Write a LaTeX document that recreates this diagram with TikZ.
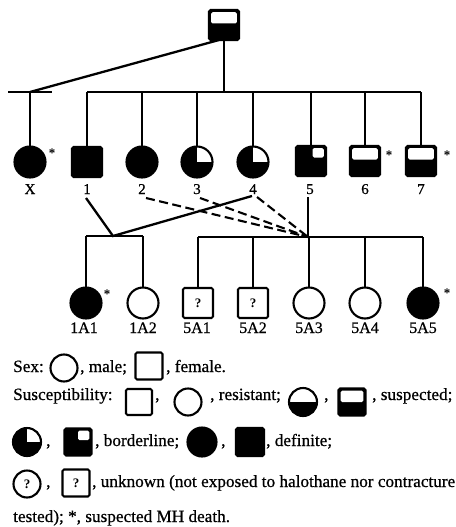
\documentclass[tikz,border=0pt]{standalone}
\usepackage{fontspec}
\setmainfont{Liberation Serif}
\newfontfamily\hv{Liberation Serif}[FakeBold=0.7]
\begin{document}
\begin{tikzpicture}[x=1pt,y=-1pt,
  ln/.style={line width=2.3pt},
  dsh/.style={line width=2.1pt, dash pattern=on 9pt off 4.5pt},
  sym/.style={draw, line width=2.1pt, inner sep=0pt, outer sep=0pt, fill=white},
  sqr/.style={sym, rectangle, rounded corners=1.5pt, minimum size=#1}, sqr/.default=30pt,
  cir/.style={sym, circle, minimum size=#1}, cir/.default=31pt,
  blk/.style={fill=black},
  suspsq/.style={fill=black, path picture={\fill[white] ([shift={(2.2pt,-2.2pt)}]path picture bounding box.north west) rectangle ([shift={(-2.2pt,-13.5pt)}]path picture bounding box.north east);}},
  bordsq/.style={fill=black, path picture={\fill[white] ([shift={(-13.5pt,-2.2pt)}]path picture bounding box.north east) rectangle ([shift={(-2.2pt,-11.5pt)}]path picture bounding box.north east);}},
  suspci/.style={fill=black, path picture={\fill[white] (path picture bounding box.north west) rectangle (path picture bounding box.east);}},
  bordci/.style={fill=black, path picture={\fill[white] (path picture bounding box.center) rectangle (path picture bounding box.north east);}},
  lab/.style={font=\hv\fontsize{15}{15}\selectfont, anchor=base, inner sep=0pt},
  labb/.style={font=\hv\fontsize{16}{16}\selectfont, anchor=base, inner sep=0pt},
  ast/.style={font=\bfseries\fontsize{13}{13}\selectfont, anchor=base, inner sep=0pt},
  leg/.style={font=\hv\fontsize{17.2}{17.2}\selectfont, anchor=base west, inner sep=0pt},
  qm/.style={font=\bfseries\fontsize{13}{13}\selectfont}
]
\useasboundingbox (0,0) rectangle (455,527);

% ---------- generation I ----------
\node[sqr, suspsq] (P) at (224,25) {};
\coordinate (Pm) at (224,92);
\coordinate (Pd) at (219,40);
\coordinate (Xm) at (30,92);
\coordinate (Xl) at (8,92);
\coordinate (Xr) at (52,92);

% ---------- generation II ----------
\node[cir, blk] (X) at (30,162) {};
\node[sqr, blk] (c1) at (87,162) {};
\node[cir, blk] (c2) at (142,162) {};
\node[cir, bordci] (c3) at (197,162) {};
\node[cir, bordci] (c4) at (253,162) {};
\node[sqr, bordsq] (c5) at (311,161) {};
\node[sqr, suspsq] (c6) at (365,161) {};
\node[sqr, suspsq] (c7) at (421,161) {};

\draw[ln] (P.south) -- (Pm);
\draw[ln] (c1.north |- Pm) -- (c7.north |- Pm);
\foreach \n in {c1,c2,c3,c4,c5,c6,c7} \draw[ln] (\n.north |- Pm) -- (\n.north);
\draw[ln] (Pd) -- (Xm);
\draw[ln] (Xl) -- (Xr);
\draw[ln] (Xm) -- (X.north);

\node[lab] (lX) at (30,194) {X};
\node[lab] (l1) at (87,194) {1};
\node[lab] (l2) at (142,194) {2};
\node[lab] (l3) at (197,194) {3};
\node[lab] (l4) at (253,194) {4};
\node[lab] (l5) at (310,194) {5};
\node[lab] (l6) at (365,194) {6};
\node[lab] (l7) at (421,194) {7};

\node[ast] (aX) at (52,157) {*};
\node[ast] (a6) at (389,159) {*};
\node[ast] (a7) at (447,159) {*};

% ---------- generation III ----------
\coordinate (a1) at (86,198);
\coordinate (a4) at (252,196);
\coordinate (m1) at (113,236);
\coordinate (b2) at (146,198);
\coordinate (b3) at (200,198);
\coordinate (b4) at (257,197);
\coordinate (a5) at (308,197);
\coordinate (m5) at (308,237);

\node[cir, blk] (d1) at (86,303) {};
\node[cir] (d2) at (143,303) {};
\node[sqr, qm] (e1) at (198,303) {?};
\node[sqr, qm] (e2) at (253,303) {?};
\node[cir] (e3) at (309,303) {};
\node[cir] (e4) at (365,303) {};
\node[cir, blk] (e5) at (423,303) {};

\draw[ln] (a1) -- (m1) -- (a4);
\draw[dsh] (b2) -- (m5);
\draw[dsh] (b3) -- (m5);
\draw[dsh] (b4) -- (m5);
\draw[ln] (a5) -- (m5);
\draw[ln] (d1.north |- m1) -- (d2.north |- m1);
\draw[ln] (e1.north |- m5) -- (e5.north |- m5);
\foreach \n in {d1,d2} \draw[ln] (\n.north |- m1) -- (\n.north);
\foreach \n in {e1,e2,e3,e4,e5} \draw[ln] (\n.north |- m5) -- (\n.north);

\node[labb] (ld1) at (84,333) {1A1};
\node[labb] (ld2) at (143,333) {1A2};
\node[labb] (le1) at (197,333) {5A1};
\node[labb] (le2) at (253,333) {5A2};
\node[labb] (le3) at (309,333) {5A3};
\node[labb] (le4) at (365,333) {5A4};
\node[labb] (le5) at (423,333) {5A5};

\node[ast] (ad1) at (107,298) {*};
\node[ast] (ae5) at (447,297) {*};

% ---------- legend ----------
\node[leg] (t1a) at (13,372) {Sex:};
\node[cir=27pt] (L1) at (64,368) {};
\node[leg] (t1b) at (80,372) {, male;};
\node[sqr=27pt] (L2) at (149,366) {};
\node[leg] (t1c) at (166,372) {, female.};

\node[leg] (t2a) at (13,400) {Susceptibility:};
\node[sqr=26pt] (L3) at (139,402) {};
\node[leg] (t2b) at (155,400) {,};
\node[cir=27pt] (L4) at (188,402) {};
\node[leg] (t2c) at (210,400) {, resistant;};
\node[cir=28pt, suspci] (L5) at (303,402) {};
\node[leg] (t2d) at (324,400) {,};
\node[sqr=27pt, suspsq] (L6) at (352,402) {};
\node[leg] (t2e) at (372,400) {, suspected;};

\node[cir=28pt, bordci] (L7) at (27,442) {};
\node[leg] (t3a) at (46,446) {,};
\node[sqr=27pt, bordsq] (L8) at (78,442) {};
\node[leg] (t3b) at (95,446) {, borderline;};
\node[cir=29pt, blk] (L9) at (202,442) {};
\node[leg] (t3c) at (221,446) {,};
\node[sqr=28pt, blk] (L10) at (250,442) {};
\node[leg] (t3d) at (266,446) {, definite;};

\node[cir=27pt, qm] (L11) at (27,484) {?};
\node[leg] (t4a) at (46,487) {,};
\node[sqr=27pt, qm] (L12) at (76,483) {?};
\node[leg] (t4b) at (92,487) {, unknown (not exposed to halothane nor contracture};

\node[leg] (t5) at (13,522) {tested); *, suspected MH death.};
\end{tikzpicture}
\end{document}
